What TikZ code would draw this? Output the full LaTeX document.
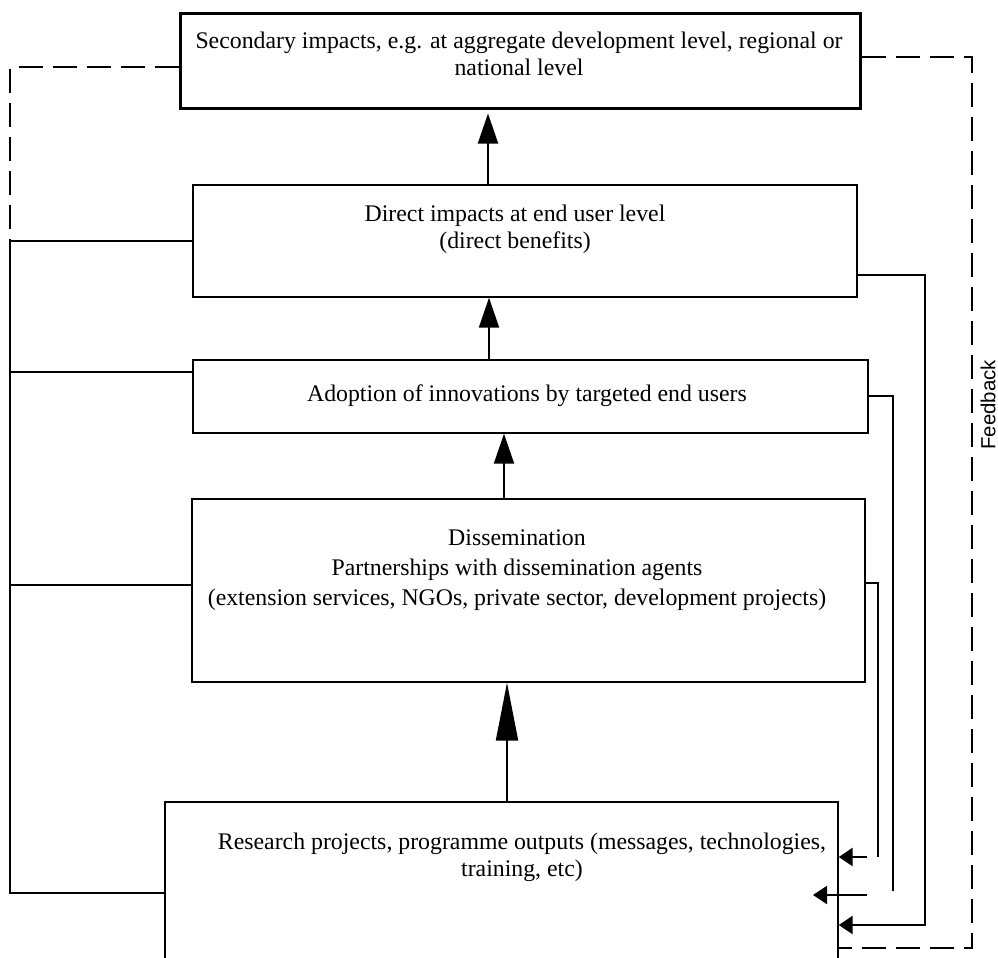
\documentclass[tikz,border=0pt]{standalone}
\usepackage{fontspec}
\setmainfont{Liberation Serif}
\newfontfamily\fbfont{Liberation Sans}
\usepackage{tikz}
\usetikzlibrary{arrows.meta, positioning, calc}

\begin{document}
\begin{tikzpicture}[x=0.5pt, y=-0.5pt,
    box/.style={draw, line width=0.7pt, inner sep=0pt},
    txt/.style={align=center, inner sep=0pt, font=\fontsize{11.9}{13.5}\selectfont},
    link/.style={line width=1.2pt},
    thinlink/.style={line width=0.7pt},
    fb/.style={line width=1.4pt, dash pattern=on 12pt off 5pt},
    uparrow/.style={line width=1pt, -{Triangle[length=15pt,width=10pt]}},
    sidearrow/.style={line width=1.2pt, -{Triangle[length=7pt,width=9pt]}}]
  \clip (0,0) rectangle (998,958);

  % Boxes
  \node[box, line width=1.5pt, minimum width=340pt, minimum height=47.5pt] (sec) at (520,60.5) {};
  \node[box, minimum width=332pt, minimum height=56pt] (direct) at (525,241) {};
  \node[box, minimum width=337.5pt, minimum height=36.5pt] (adopt) at (530.5,396.5) {};
  \node[box, minimum width=336.5pt, minimum height=91.5pt] (dissem) at (528.5,590.5) {};
  \node[box, minimum width=336.5pt, minimum height=80pt] (research) at (501.5,882) {};

  % Texts
  \node[txt] (sectxt) at (519,54) {Secondary impacts, e.g. at aggregate development level, regional or\\national level};
  \node[txt] (directtxt) at (515,229.5) {Direct impacts at end user level\\(direct benefits)};
  \node[txt] (adopttxt) at (527,396) {Adoption of innovations by targeted end users};
  \node[txt, font=\fontsize{11.9}{15}\selectfont] (dissemtxt) at (517,570) {Dissemination\\Partnerships with dissemination agents\\(extension services, NGOs, private sector, development projects)};
  \node[txt] (researchtxt) at (522,857.5) {Research projects, programme outputs (messages, technologies,\\training, etc)};
  \node[font=\fbfont\fontsize{10.2}{12}\selectfont, rotate=90, inner sep=0pt] (fbtxt) at (988,405) {Feedback};

  % Upward chain
  \coordinate (c1) at (488,0);
  \coordinate (c2) at (489,0);
  \coordinate (c3) at (504,0);
  \coordinate (c4) at (507,0);
  \draw[uparrow] (direct.north -| c1) -- ([yshift=-2pt]sec.south -| c1);
  \draw[uparrow] (adopt.north -| c2) -- (direct.south -| c2);
  \draw[uparrow] (dissem.north -| c3) -- (adopt.south -| c3);
  \draw[uparrow, -{Triangle[length=29pt,width=11pt]}] (research.north -| c4) -- (dissem.south -| c4);

  % Left bus
  \coordinate (l1) at (10,241);
  \coordinate (l2) at (10,372);
  \coordinate (l3) at (10,585);
  \coordinate (l4) at (10,893);
  \draw[link] (direct.west) -- (l1) -- (l4) -- (research.west |- l4);
  \draw[thinlink] (l2) -- (adopt.west |- l2);
  \draw[link] (l3) -- (dissem.west |- l3);

  % Feedback loop (dashed)
  \coordinate (fl) at (10,67);
  \coordinate (fr1) at (972,57);
  \coordinate (fr2) at (972,948);
  \draw[fb] (sec.west |- fl) -- (fl) -- (l1);
  \draw[fb] (sec.east |- fr1) -- (fr1) -- (fr2) -- (research.east |- fr2);

  % Right returns
  \coordinate (r1) at (925,275);
  \coordinate (r1b) at (925,925);
  \draw[sidearrow] (direct.east |- r1) -- (r1) -- (r1b) -- (research.east |- r1b);
  \coordinate (r2) at (893,396);
  \coordinate (r2b) at (893,891);
  \draw[link] (adopt.east |- r2) -- (r2) -- (r2b);
  \coordinate (a2) at (867,895);
  \draw[sidearrow] (a2) -- ++(-54,0);
  \coordinate (r3) at (878,583);
  \coordinate (r3b) at (878,857);
  \draw[link] (dissem.east |- r3) -- (r3) -- (r3b);
  \coordinate (a3) at (867,857);
  \draw[sidearrow] (a3) -- (research.east |- a3);
\end{tikzpicture}
\end{document}
